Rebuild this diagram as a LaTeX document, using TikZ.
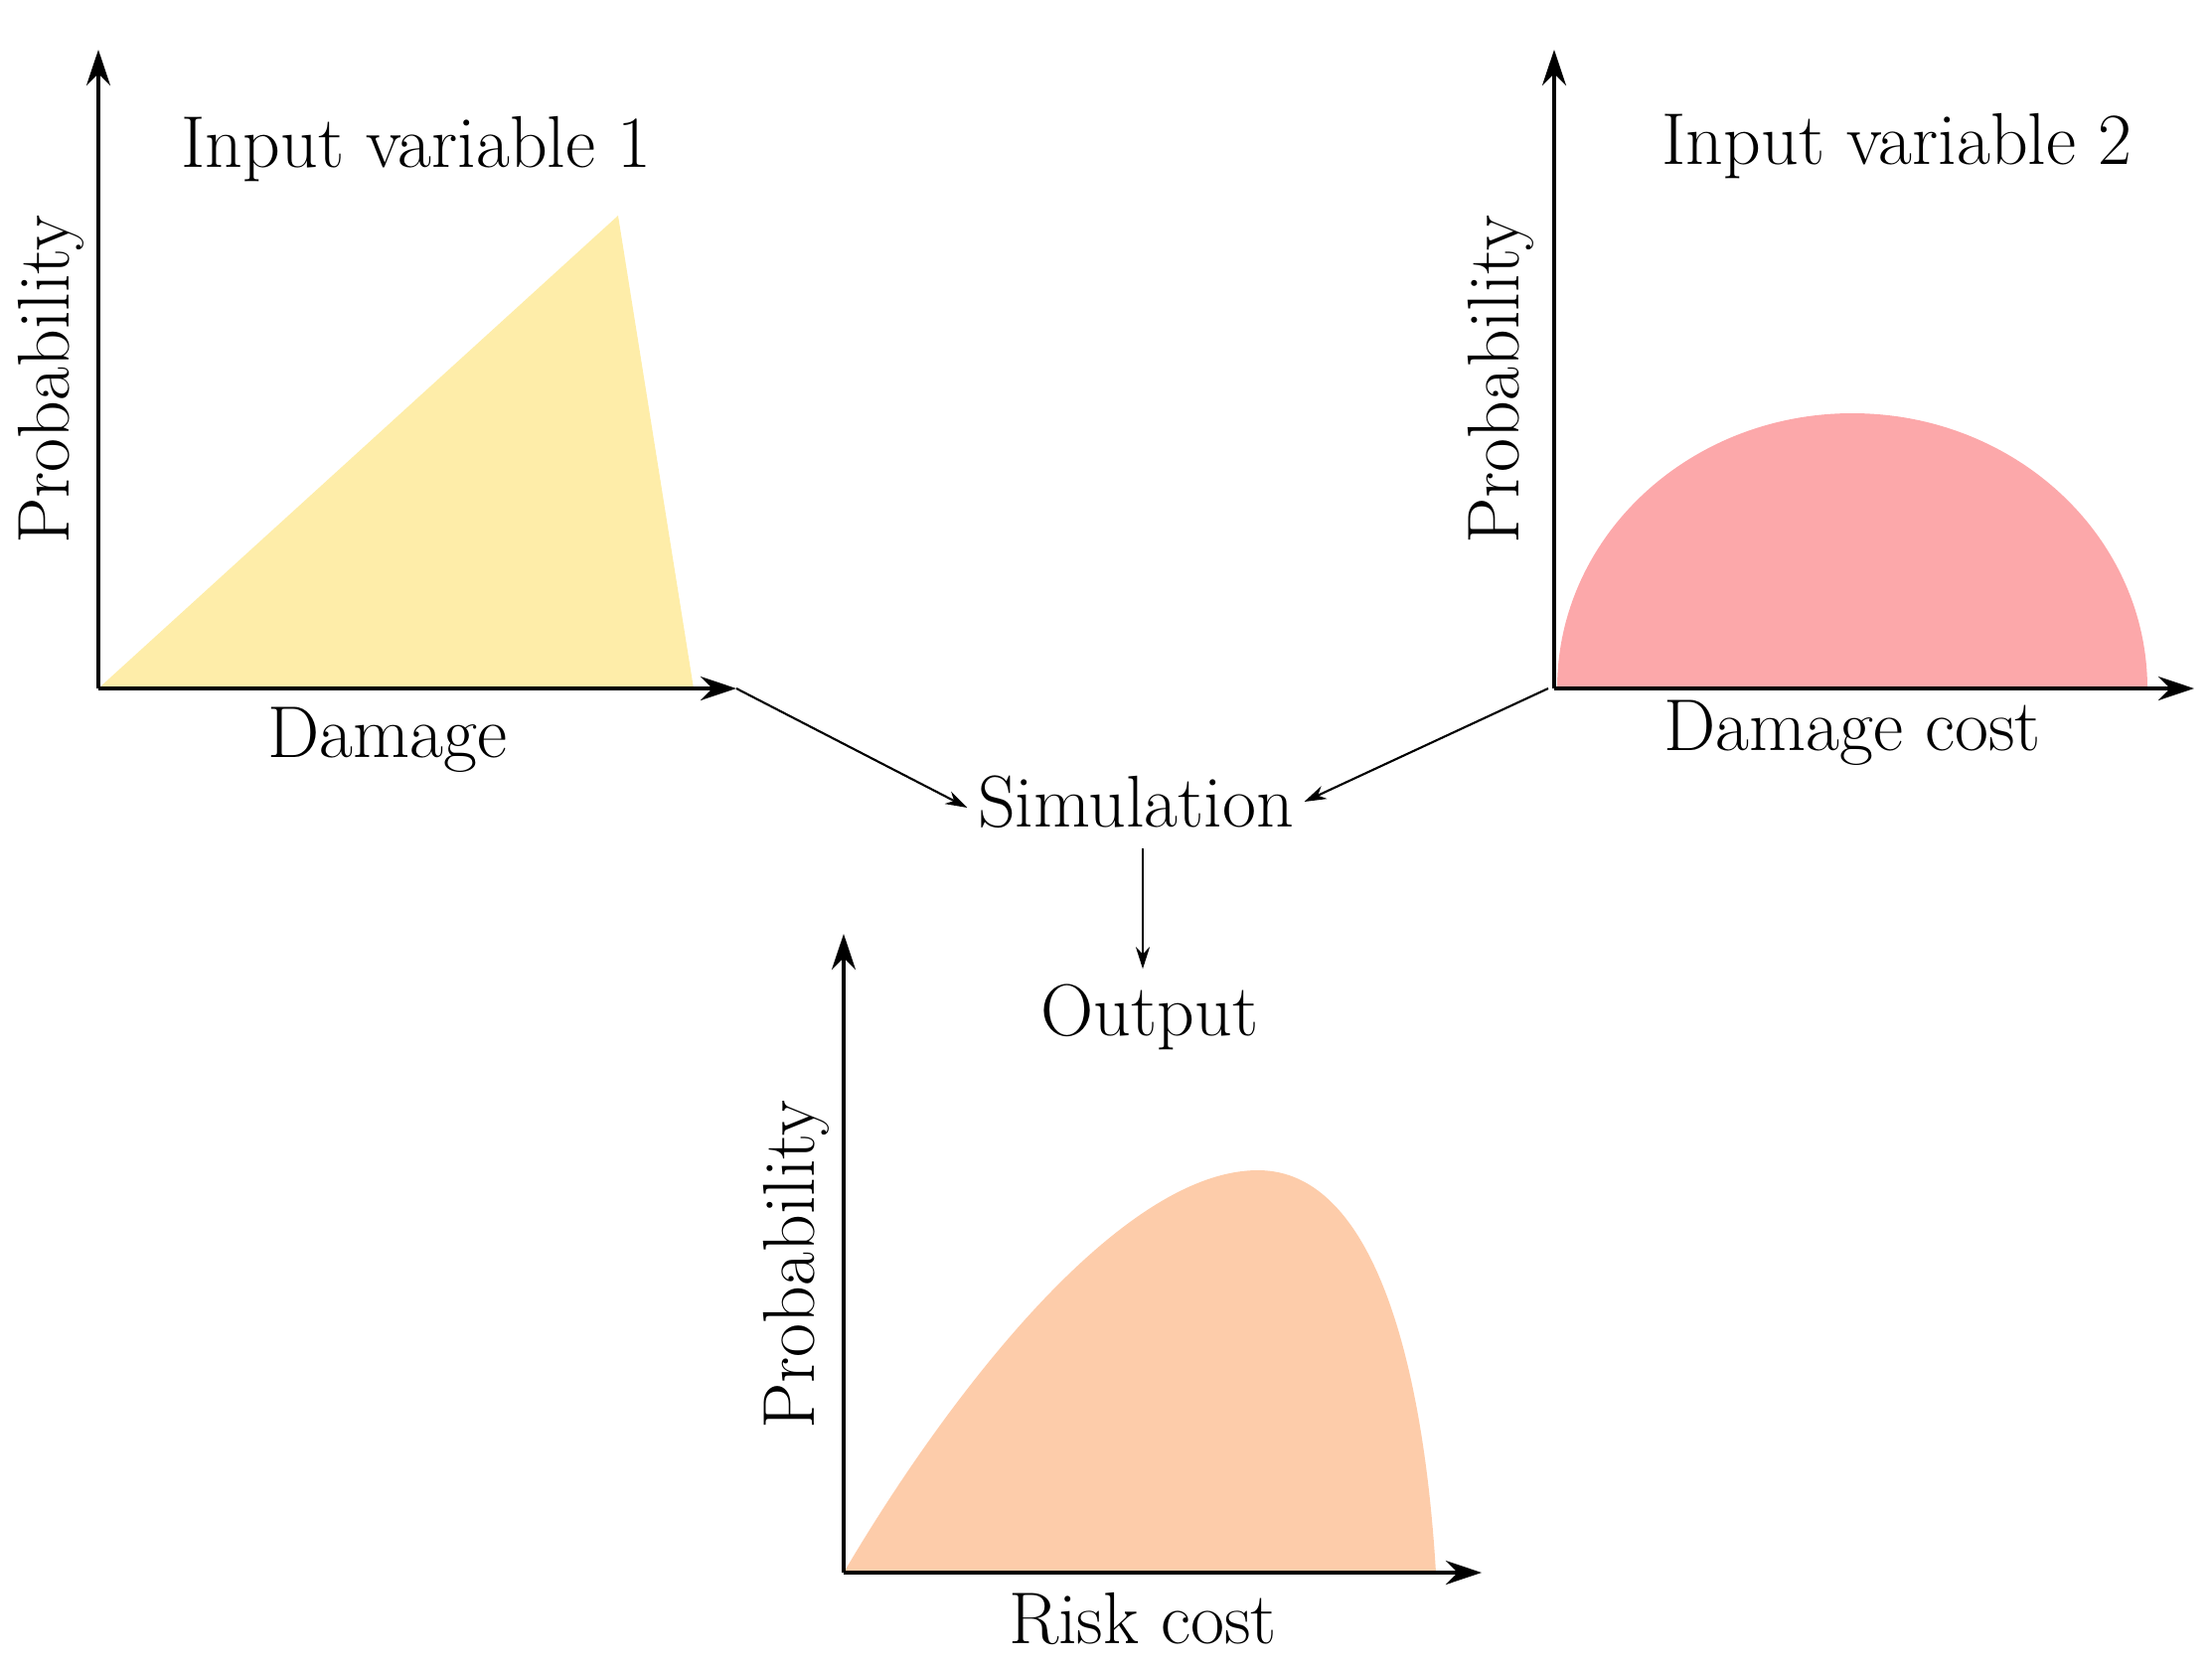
\documentclass[tikz,border=0pt]{standalone}
\usetikzlibrary{arrows.meta}
\definecolor{yellowfill}{HTML}{FEEDA9}
\definecolor{pinkfill}{HTML}{FCA8AA}
\definecolor{peachfill}{HTML}{FDCCAA}
\begin{document}
\begin{tikzpicture}[x=0.01cm,y=-0.01cm,
  axis/.style={line width=1.15pt,-{Stealth[length=0.36cm,width=0.24cm,inset=0.12cm]}},
  conn/.style={line width=0.6pt,-{Stealth[length=0.22cm,width=0.14cm,inset=0.07cm]}},
  lab/.style={font=\fontsize{21}{25}\selectfont,inner sep=0pt},
  ylab/.style={lab,rotate=90}]
\useasboundingbox (0,0) rectangle (2226,1675);
% chart 1
\fill[yellowfill] (99,693) -- (622,217) -- (698,693) -- cycle;
\coordinate (o1) at (99,693);
\coordinate (y1) at (99,50);
\coordinate (x1) at (741,693);
\draw[axis] (o1) -- (y1);
\draw[axis] (o1) -- (x1);
\node[lab] (t1) at (419,150) {Input variable 1};
\node[ylab] (p1) at (51,382) {Probability};
\node[lab] (d1) at (390,745) {Damage};
% chart 2
\fill[pinkfill] (1567,693) arc[start angle=180,end angle=0,x radius=297,y radius=-277] -- cycle;
\coordinate (o2) at (1564,693);
\coordinate (y2) at (1564,50);
\coordinate (x2) at (2208,693);
\draw[axis] (o2) -- (y2);
\draw[axis] (o2) -- (x2);
\node[lab] (t2) at (1909,147) {Input variable 2};
\node[ylab] (p2) at (1510,382) {Probability};
\node[lab] (d2) at (1864,738) {Damage cost};
% chart 3
\fill[peachfill] (849,1583) .. controls (956,1401) and (1129,1178) .. (1266,1178)
  .. controls (1385,1178) and (1433,1380) .. (1445,1583) -- cycle;
\coordinate (o3) at (849,1583);
\coordinate (y3) at (849,940);
\coordinate (x3) at (1491,1583);
\draw[axis] (o3) -- (y3);
\draw[axis] (o3) -- (x3);
\node[ylab] (p3) at (801,1273) {Probability};
\node[lab] (d3) at (1150,1629) {Risk cost};
% flow
\node[lab,inner sep=0.1cm] (sim) at (1143,807) {Simulation};
\node[lab,inner sep=0.15cm] (out) at (1157,1024) {Output};
\draw[conn] (x1) -- ([yshift=-0.06cm]sim.west);
\draw[conn] ([xshift=-0.06cm]o2) -- (sim.east);
\draw[conn] ([xshift=-0.07cm,yshift=-0.1cm]sim.south -| out.north) -- ([xshift=-0.07cm]out.north);
\end{tikzpicture}
\end{document}
